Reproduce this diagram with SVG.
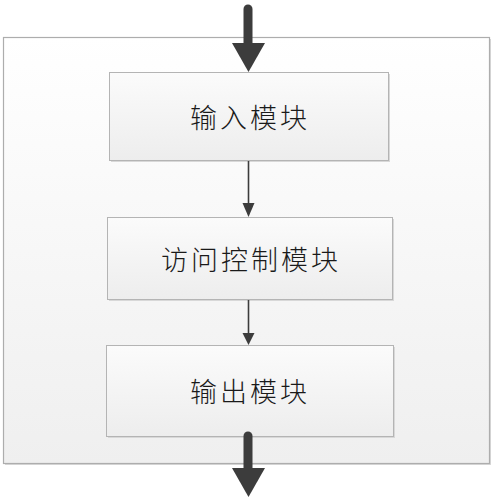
<svg xmlns="http://www.w3.org/2000/svg" width="494" height="500" viewBox="0 0 494 500">
<defs>
<linearGradient id="bg" x1="0" y1="0" x2="0" y2="1">
<stop offset="0" stop-color="#ffffff"/>
<stop offset="1" stop-color="#efefef"/>
</linearGradient>
<linearGradient id="nb" x1="0" y1="0" x2="0" y2="1">
<stop offset="0" stop-color="#fbfbfb"/>
<stop offset="1" stop-color="#ededed"/>
</linearGradient>
<style>
.box{fill:url(#nb);stroke:#b4b4b4;stroke-width:1}
.shadow{fill:#d8d8d8}
.label{font-family:"Noto Sans CJK SC","Noto Sans CJK JP",sans-serif;font-size:27px;font-weight:300;fill:#1a1a1a;text-anchor:middle;dominant-baseline:central;letter-spacing:3px}
.thin{stroke:#3c3c3c;stroke-width:1.6;fill:none}
.thick{stroke:#3c3c3c;stroke-width:9;stroke-linecap:round;fill:none}
.head{fill:#3c3c3c}
</style>
</defs>
<g id="container">
<rect x="5" y="39" width="486" height="426" class="shadow"/>
<rect x="3.5" y="37.5" width="486" height="426" fill="url(#bg)" stroke="#adadad" stroke-width="1.2"/>
</g>
<g id="input">
<rect x="111" y="74" width="279" height="88" class="shadow"/>
<rect x="109.5" y="72.5" width="279" height="88" class="box"/>
<text x="250" y="116" class="label">输入模块</text>
</g>
<g id="access">
<rect x="109" y="219" width="285" height="82" class="shadow"/>
<rect x="107.5" y="217.5" width="285" height="82" class="box"/>
<text x="251" y="258" class="label">访问控制模块</text>
</g>
<g id="output">
<rect x="108" y="347" width="287" height="91" class="shadow"/>
<rect x="106.5" y="345.5" width="287" height="91" class="box"/>
<text x="250" y="390" class="label">输出模块</text>
</g>
<g id="connectors">
<line x1="248" y1="9" x2="248" y2="45" class="thick"/>
<path d="M232,43 L265,43 L248.5,72 Z" class="head"/>
<line x1="248.5" y1="161" x2="248.5" y2="205" class="thin"/>
<path d="M242.5,203 L254.5,203 L248.5,217 Z" class="head"/>
<line x1="248.5" y1="300" x2="248.5" y2="335" class="thin"/>
<path d="M242.5,333 L254.5,333 L248.5,345 Z" class="head"/>
<line x1="248" y1="436" x2="248" y2="470" class="thick"/>
<path d="M232,468 L265,468 L248.5,497 Z" class="head"/>
</g>
</svg>
